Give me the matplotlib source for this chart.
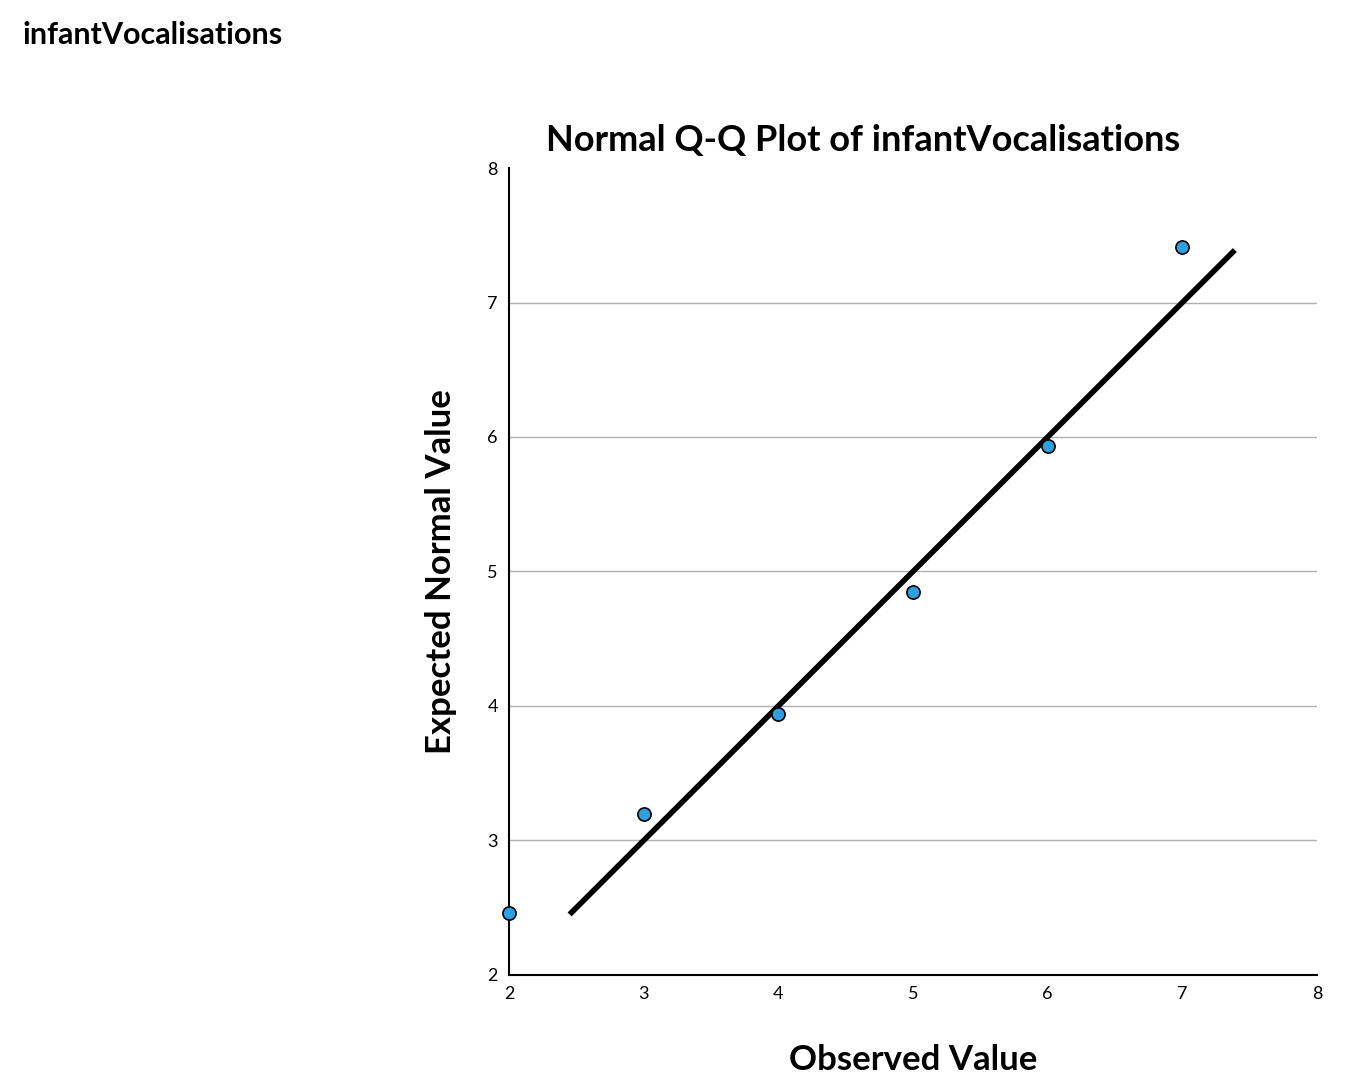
import matplotlib
matplotlib.use("Agg")
import matplotlib.pyplot as plt

observed = [2, 3, 4, 5, 6, 7]
expected = [2.46, 3.20, 3.94, 4.85, 5.93, 7.41]
line_x = [2.45, 7.39]
ticks = [2, 3, 4, 5, 6, 7, 8]

plt.rcParams['font.family'] = ['Lato', 'DejaVu Sans']
fig = plt.figure(figsize=(13.48, 10.84), dpi=100)
ax = fig.add_axes([0.3776, 0.1006, 0.5994, 0.7444])
ax.set_xlim(2, 8)
ax.set_ylim(2, 8)
ax.set_xticks(ticks)
ax.set_yticks(ticks)
for y in ticks[1:-1]:
    ax.axhline(y, color='#b0b0b0', lw=1, zorder=0)
ax.plot(line_x, line_x, color='black', lw=4, zorder=2, solid_capstyle='butt')
ax.scatter(observed, expected, s=90, color='#2e9fe0', edgecolor='black', linewidth=1.2, zorder=3, clip_on=False)
for s in ['top', 'right']:
    ax.spines[s].set_visible(False)
ax.spines['left'].set_linewidth(1.5)
ax.spines['bottom'].set_linewidth(1.5)
ax.tick_params(labelsize=13, length=0, pad=8)
ax.set_xlabel('Observed Value', fontsize=25, fontweight='bold', labelpad=30)
ax.set_ylabel('Expected Normal Value', fontsize=25, fontweight='bold', labelpad=22)
fig.text(863/1348, 1-140/1084, 'Normal Q-Q Plot of infantVocalisations', fontsize=26,
         fontweight='bold', ha='center', va='center')
fig.text(22/1348, 1-35/1084, 'infantVocalisations', fontsize=22, fontweight='bold', va='center')
fig.savefig('out.png', dpi=100)
